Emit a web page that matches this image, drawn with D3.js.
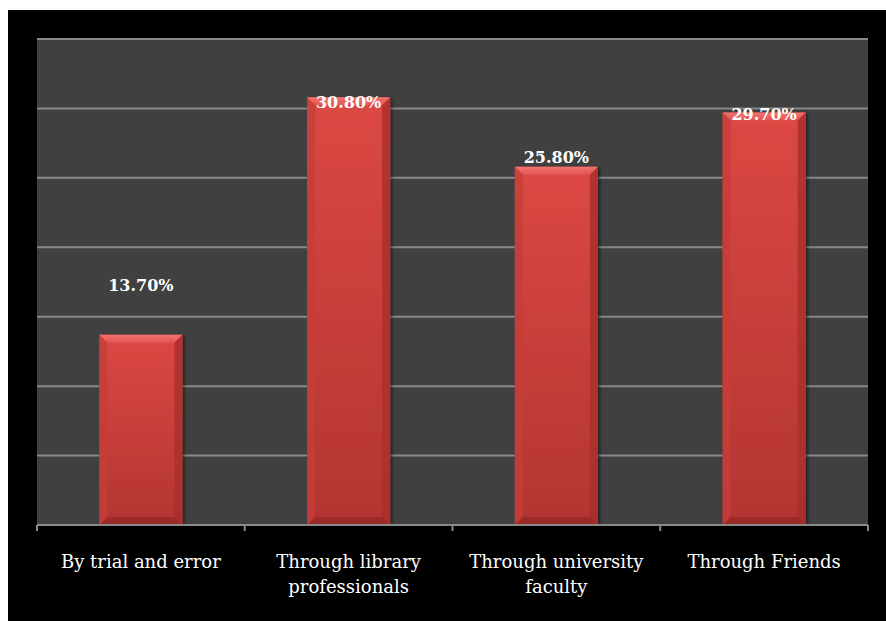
<!DOCTYPE html>
<html>
<head>
<meta charset="utf-8">
<script src="https://cdn.jsdelivr.net/npm/d3@7"></script>
<style>
  html, body { margin: 0; padding: 0; background: #ffffff; }
  svg { display: block; }
</style>
</head>
<body>
<svg id="chart" width="886" height="621"></svg>
<script>
// Ways respondents learned to use the resources
const categories = [
  ["By trial and error"],
  ["Through library", "professionals"],
  ["Through university", "faculty"],
  ["Through Friends"]
];
const values = [13.7, 30.8, 25.8, 29.7];
const valueLabels = ["13.70%", "30.80%", "25.80%", "29.70%"];
const yTicks = [0, 5, 10, 15, 20, 25, 30, 35];

// label baseline offsets from the bar top (px)
const labelShift = [-44, 11, -4, 7];

const svg = d3.select("#chart");
const W = 886, H = 621;

// black frame
svg.append("rect").attr("x", 8).attr("y", 10).attr("width", W - 8).attr("height", H - 10).attr("fill", "#000");

const plot = { left: 37, right: 868, top: 39, bottom: 525 };

const x = d3.scaleBand()
  .domain(d3.range(categories.length))
  .range([plot.left, plot.right])
  .paddingInner(0.6).paddingOuter(0.3);

const y = d3.scaleLinear().domain([0, 35]).range([plot.bottom, plot.top]);

// plot background
svg.append("rect")
  .attr("x", plot.left).attr("y", plot.top)
  .attr("width", plot.right - plot.left).attr("height", plot.bottom - plot.top)
  .attr("fill", "#404040");

// gridlines
svg.append("g").selectAll("line").data(yTicks.slice(1)).join("line")
  .attr("x1", plot.left).attr("x2", plot.right)
  .attr("y1", d => y(d)).attr("y2", d => y(d))
  .attr("stroke", "#888888").attr("stroke-width", 2);

// gradients for the bevelled bars
const defs = svg.append("defs");
const g1 = defs.append("linearGradient").attr("id", "barFill").attr("x1", 0).attr("y1", 0).attr("x2", 0).attr("y2", 1);
g1.append("stop").attr("offset", "0%").attr("stop-color", "#dc4843");
g1.append("stop").attr("offset", "100%").attr("stop-color", "#b23532");
const gTop = defs.append("linearGradient").attr("id", "bevelTop").attr("x1", 0).attr("y1", 0).attr("x2", 0).attr("y2", 1);
gTop.append("stop").attr("offset", "0%").attr("stop-color", "#f27370");
gTop.append("stop").attr("offset", "100%").attr("stop-color", "#e25452");
const shadow = defs.append("filter").attr("id", "barShadow").attr("x", "-10%").attr("y", "-10%").attr("width", "130%").attr("height", "130%");
shadow.append("feDropShadow").attr("dx", 2).attr("dy", 1).attr("stdDeviation", 1.5).attr("flood-color", "#000").attr("flood-opacity", 0.45);

const bevel = 8;
const bars = svg.append("g").selectAll("g").data(values).join("g")
  .attr("filter", "url(#barShadow)");

bars.each(function(v, i) {
  const g = d3.select(this);
  const x0 = x(i), bw = x.bandwidth();
  const y0 = y(v), y1 = y(0);
  const x1 = x0 + bw;
  g.append("rect").attr("x", x0).attr("y", y0).attr("width", bw).attr("height", y1 - y0).attr("fill", "url(#barFill)");
  // top bevel
  g.append("path")
    .attr("d", `M${x0},${y0}L${x1},${y0}L${x1 - bevel},${y0 + bevel}L${x0 + bevel},${y0 + bevel}Z`)
    .attr("fill", "url(#bevelTop)");
  // left bevel
  g.append("path")
    .attr("d", `M${x0},${y0}L${x0 + bevel},${y0 + bevel}L${x0 + bevel},${y1 - bevel}L${x0},${y1}Z`)
    .attr("fill", "#c63d3a").attr("opacity", 0.8);
  // right bevel
  g.append("path")
    .attr("d", `M${x1},${y0}L${x1 - bevel},${y0 + bevel}L${x1 - bevel},${y1 - bevel}L${x1},${y1}Z`)
    .attr("fill", "#a82e2c").attr("opacity", 0.8);
  // bottom bevel
  g.append("path")
    .attr("d", `M${x0},${y1}L${x1},${y1}L${x1 - bevel},${y1 - bevel}L${x0 + bevel},${y1 - bevel}Z`)
    .attr("fill", "#9c2a28");
});

// x axis
const axis = svg.append("g");
axis.append("line")
  .attr("x1", plot.left).attr("x2", plot.right)
  .attr("y1", plot.bottom).attr("y2", plot.bottom)
  .attr("stroke", "#8a8a8a").attr("stroke-width", 2);
const tickXs = d3.range(categories.length + 1).map(i => plot.left + i * (plot.right - plot.left) / categories.length);
axis.selectAll("line.tick").data(tickXs).join("line").attr("class", "tick")
  .attr("x1", d => d).attr("x2", d => d)
  .attr("y1", plot.bottom).attr("y2", plot.bottom + 6)
  .attr("stroke", "#8a8a8a").attr("stroke-width", 2);

// category labels
const catG = svg.append("g")
  .attr("font-family", "'DejaVu Serif', serif")
  .attr("font-size", 18).attr("fill", "#ffffff").attr("text-anchor", "middle");
categories.forEach((lines, i) => {
  const t = catG.append("text").attr("x", x(i) + x.bandwidth() / 2).attr("y", 568);
  lines.forEach((ln, j) => t.append("tspan").attr("x", x(i) + x.bandwidth() / 2).attr("dy", j === 0 ? 0 : 25).text(ln));
});

// value labels
svg.append("g").selectAll("text").data(values).join("text")
  .attr("x", (d, i) => x(i) + x.bandwidth() / 2)
  .attr("y", (d, i) => y(d) + labelShift[i])
  .attr("text-anchor", "middle")
  .attr("font-family", "'DejaVu Serif', serif")
  .attr("font-weight", "bold").attr("font-size", 16)
  .attr("fill", "#ffffff")
  .text((d, i) => valueLabels[i]);
</script>
</body>
</html>
